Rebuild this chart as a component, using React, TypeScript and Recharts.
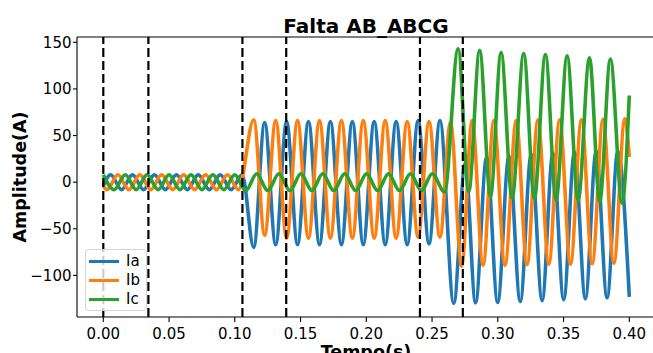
import { LineChart, Line, XAxis, YAxis, ReferenceLine, Label } from 'recharts'

// time ticks (s) and amplitude ticks (A)
const xTicks = [0, 0.05, 0.1, 0.15, 0.2, 0.25, 0.3, 0.35, 0.4]
const yTicks = [-100, -50, 0, 50, 100, 150]
const xDomain = [-0.02, 0.42]
const yDomain = [-144.6, 155.7]

// dashed event markers
const eventTimes = [0, 0.0343, 0.1058, 0.1391, 0.2408, 0.2734]

const seriesNames = ['Ia', 'Ib', 'Ic']
const seriesColors = ['#1f77b4', '#ff7f0e', '#2ca02c']

// [time, value] at each crest / trough
const iaPeaks: [number, number][] = [
  [0, -4],
  [0.0056, 8], [0.0139, -8], [0.0222, 8], [0.0306, -8], [0.0389, 8], [0.0472, -8],
  [0.0556, 8], [0.0639, -8], [0.0722, 8], [0.0806, -8], [0.0889, 8], [0.0972, -8],
  [0.1056, 8],
  [0.1144, -70], [0.1227, 64], [0.1311, -67], [0.1394, 65], [0.1477, -67], [0.156, 65],
  [0.1644, -67], [0.1727, 65], [0.1811, -67], [0.1894, 65], [0.1977, -67], [0.206, 65],
  [0.2144, -67], [0.2227, 65], [0.2311, -67], [0.2394, 66], [0.2477, -66], [0.256, 66],
  [0.2665, -130], [0.2752, 20], [0.2831, -129.5], [0.2915, 27], [0.2999, -129], [0.3085, 28],
  [0.3171, -128], [0.3254, 30], [0.3337, -127], [0.3419, 31], [0.3501, -126], [0.3583, 32],
  [0.3666, -125], [0.3748, 33], [0.3831, -124], [0.3913, 33.5], [0.4, -123],
]

const ibPeaks: [number, number][] = [
  [0, -4],
  [0.0028, -8], [0.0111, 8], [0.0194, -8], [0.0278, 8], [0.0361, -8], [0.0444, 8],
  [0.0528, -8], [0.0611, 8], [0.0694, -8], [0.0778, 8], [0.0861, -8], [0.0944, 8],
  [0.1028, -8],
  [0.1144, 67], [0.1227, -57], [0.1311, 66], [0.1394, -60], [0.1477, 66], [0.156, -60],
  [0.1644, 66], [0.1727, -60], [0.1811, 66], [0.1894, -60], [0.1977, 66], [0.206, -60],
  [0.2144, 66], [0.2227, -60], [0.2311, 65], [0.2394, -59], [0.2477, 65], [0.256, -59],
  [0.264, 64],
  [0.2725, -90], [0.2805, 66], [0.2888, -89], [0.297, 66], [0.3055, -89], [0.314, 66],
  [0.3222, -88.5], [0.3305, 66.5], [0.3388, -88], [0.347, 67], [0.3553, -88], [0.3636, 67],
  [0.3718, -87.5], [0.38, 67.5], [0.3883, -87], [0.3966, 68], [0.4, 27],
]

const icPeaks: [number, number][] = [
  [0, 8], [0.0083, -8], [0.0167, 8], [0.025, -8], [0.0333, 8], [0.0417, -8], [0.05, 8],
  [0.0583, -8], [0.0667, 8], [0.075, -8], [0.0833, 8], [0.0917, -8], [0.1, 8],
  [0.1083, -9], [0.1167, 9], [0.125, -9], [0.1336, 9], [0.1419, -9], [0.1503, 9],
  [0.1586, -9], [0.1669, 9], [0.1752, -9], [0.1836, 9], [0.1919, -9], [0.2002, 9],
  [0.2086, -9], [0.2169, 9], [0.2252, -9], [0.2336, 9], [0.2419, -9], [0.2502, 9],
  [0.2595, -10.5],
  [0.2698, 143], [0.2779, -10], [0.2862, 141.5], [0.2944, -15.5], [0.3025, 139],
  [0.3109, -17], [0.3197, 138], [0.3278, -17.5], [0.3362, 137], [0.3443, -19],
  [0.3527, 135.5], [0.3611, -19.5], [0.3697, 133.5], [0.3775, -21], [0.3856, 132],
  [0.3945, -22.5], [0.4, 93],
]

const toRows = (pts: [number, number][]) => pts.map(([t, v]) => ({ t, v }))
const seriesData = [toRows(iaPeaks), toRows(ibPeaks), toRows(icPeaks)]

const font = 'DejaVu Sans'
const axisStroke = { stroke: '#000', strokeWidth: 1.1 }
const fmtY = (v: number) => (v < 0 ? '\u2212' + Math.abs(v) : String(v))

function LegendBox() {
  const rows = [11.7, 30.3, 49.3]
  return (
    <div
      style={{
        position: 'absolute',
        left: 84.5,
        top: 249,
        width: 62,
        height: 62,
        boxSizing: 'border-box',
        border: '1px solid #d4d4d4',
        borderRadius: 3,
        background: 'rgba(255,255,255,0.8)',
      }}
    >
      {seriesNames.map((name, i) => (
        <div key={name}>
          <div
            style={{
              position: 'absolute',
              left: 3,
              top: rows[i] - 1.8,
              width: 30,
              height: 3.6,
              background: seriesColors[i],
            }}
          />
          <div
            style={{
              position: 'absolute',
              left: 40.5,
              top: rows[i] - 7.5,
              fontSize: 15,
              lineHeight: '15px',
              fontFamily: font,
              color: '#000',
            }}
          >
            {name}
          </div>
        </div>
      ))}
    </div>
  )
}

export default function App() {
  return (
    <div
      style={{
        position: 'absolute',
        left: 0,
        top: 0,
        width: 653,
        height: 353,
        overflow: 'hidden',
        background: '#fff',
      }}
    >
      <LineChart width={660} height={353} margin={{ top: 37, right: 4.4, bottom: 0, left: 0 }}>
        <XAxis
          dataKey="t"
          type="number"
          domain={xDomain}
          allowDataOverflow
          ticks={xTicks}
          tickFormatter={(v: number) => v.toFixed(2)}
          height={36}
          tickSize={5}
          tickMargin={6}
          axisLine={axisStroke}
          tickLine={axisStroke}
          tick={{ fill: '#000', fontSize: 15, fontFamily: font }}
        >
          {/* sits at the lower edge, partly cut off, as in the source figure */}
          <Label
            content={() => (
              <text x={366} y={357.5} textAnchor="middle" fontFamily={font} fontWeight="bold" fontSize={17.5} fill="#000">
                Tempo(s)
              </text>
            )}
          />
        </XAxis>
        <YAxis
          type="number"
          domain={yDomain}
          allowDataOverflow
          ticks={yTicks}
          tickFormatter={fmtY}
          width={77}
          tickSize={4}
          tickMargin={1.5}
          axisLine={axisStroke}
          tickLine={axisStroke}
          tick={{ fill: '#000', fontSize: 15, fontFamily: font }}
        >
          <Label
            content={() => (
              <g>
                <text
                  x={26.3}
                  y={177}
                  transform="rotate(-90 26.3 177)"
                  textAnchor="middle"
                  fontFamily={font}
                  fontWeight="bold"
                  fontSize={17.5}
                  fill="#000"
                >
                  Amplitude(A)
                </text>
                <text x={366} y={32.5} textAnchor="middle" fontFamily={font} fontWeight="bold" fontSize={20} fill="#000">
                  Falta AB_ABCG
                </text>
              </g>
            )}
          />
        </YAxis>
        {seriesData.map((rows, i) => (
          <Line
            key={seriesNames[i]}
            data={rows}
            dataKey="v"
            name={seriesNames[i]}
            type="monotone"
            stroke={seriesColors[i]}
            strokeWidth={3.6}
            dot={false}
            activeDot={false}
            isAnimationActive={false}
          />
        ))}
        {eventTimes.map((t) => (
          <ReferenceLine key={t} x={t} stroke="#000" strokeWidth={2.2} strokeDasharray="9 4" />
        ))}
        <ReferenceLine y={yDomain[1]} stroke="#000" strokeWidth={1.1} />
      </LineChart>
      <LegendBox />
    </div>
  )
}
